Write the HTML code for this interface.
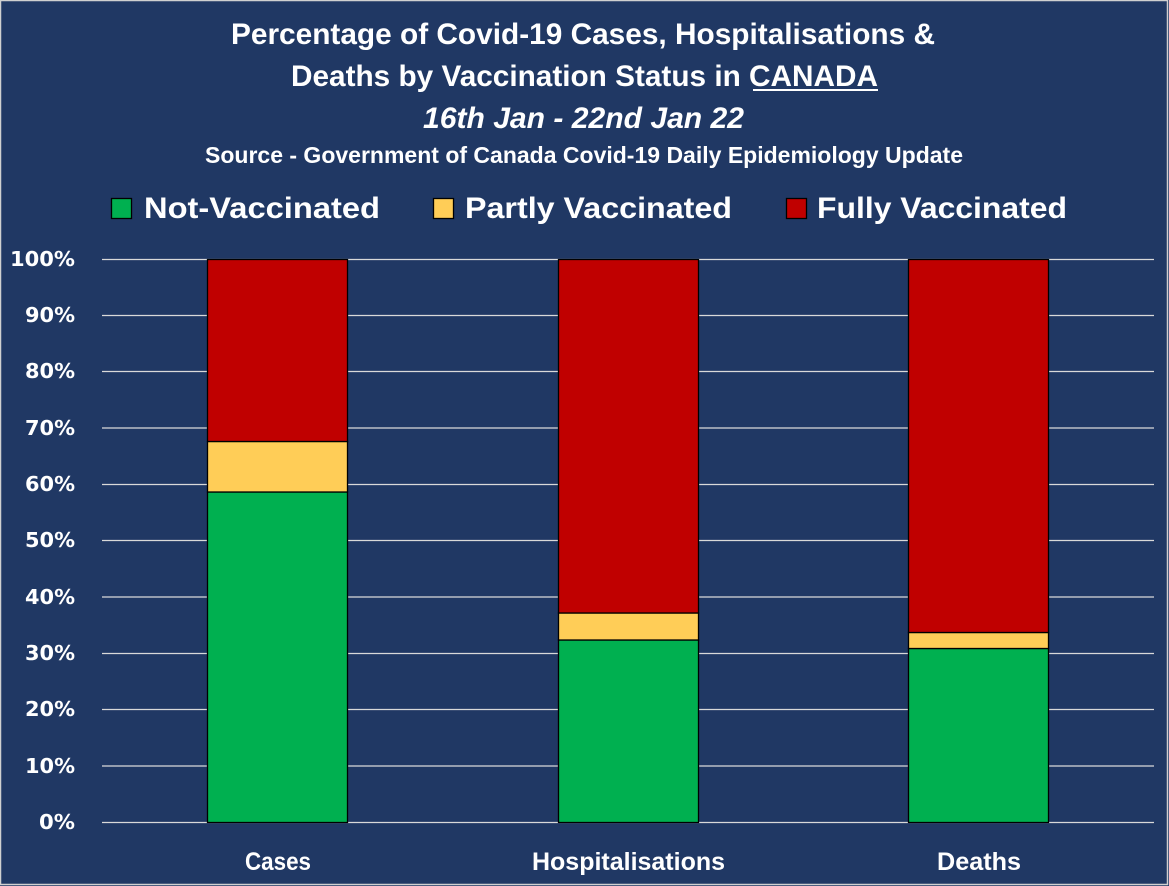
<!DOCTYPE html>
<html><head><meta charset="utf-8"><style>
html,body{margin:0;padding:0;background:#203864;}
svg{display:block;}
</style></head><body>
<svg xmlns="http://www.w3.org/2000/svg" width="1169" height="886" viewBox="0 0 1169 886">
<rect x="0" y="0" width="1169" height="886" fill="#203864"/>
<rect x="0.5" y="0.5" width="1167" height="884" fill="none" stroke="#d0d0d0" stroke-width="1.5"/>
<g font-family="'Liberation Sans', sans-serif" font-weight="bold" fill="#ffffff">
<text x="231" y="44" font-size="30" textLength="704" lengthAdjust="spacingAndGlyphs">Percentage of Covid-19 Cases, Hospitalisations &amp;</text>
<text x="291" y="86" font-size="30" textLength="587" lengthAdjust="spacingAndGlyphs">Deaths by Vaccination Status in CANADA</text>
<text x="423" y="128" font-size="30" font-style="italic" textLength="321" lengthAdjust="spacingAndGlyphs">16th Jan - 22nd Jan 22</text>
<text x="205" y="163" font-size="23" textLength="758" lengthAdjust="spacingAndGlyphs">Source - Government of Canada Covid-19 Daily Epidemiology Update</text>
<text x="144" y="218" font-size="30" textLength="236" lengthAdjust="spacingAndGlyphs">Not-Vaccinated</text>
<text x="465" y="218" font-size="30" textLength="267" lengthAdjust="spacingAndGlyphs">Partly Vaccinated</text>
<text x="817" y="218" font-size="30" textLength="250" lengthAdjust="spacingAndGlyphs">Fully Vaccinated</text>
<text x="245" y="870" font-size="25" textLength="66" lengthAdjust="spacingAndGlyphs">Cases</text>
<text x="532" y="870" font-size="25" textLength="193" lengthAdjust="spacingAndGlyphs">Hospitalisations</text>
<text x="937" y="870" font-size="25" textLength="84" lengthAdjust="spacingAndGlyphs">Deaths</text>
</g>
<rect x="753" y="89" width="125" height="2" fill="#ffffff"/>
<rect x="111.5" y="198.5" width="20" height="20" fill="#00b050" stroke="#000" stroke-width="1.3"/>
<rect x="433.5" y="198.5" width="20" height="20" fill="#ffcd57" stroke="#000" stroke-width="1.3"/>
<rect x="786.5" y="198.5" width="20" height="20" fill="#c00000" stroke="#000" stroke-width="1.3"/>
<g stroke="#d9d9d9" stroke-width="1.3">
<line x1="102" x2="1154" y1="259.5" y2="259.5"/>
<line x1="102" x2="1154" y1="315.5" y2="315.5"/>
<line x1="102" x2="1154" y1="371.5" y2="371.5"/>
<line x1="102" x2="1154" y1="428" y2="428"/>
<line x1="102" x2="1154" y1="484.5" y2="484.5"/>
<line x1="102" x2="1154" y1="540.5" y2="540.5"/>
<line x1="102" x2="1154" y1="597" y2="597"/>
<line x1="102" x2="1154" y1="653.5" y2="653.5"/>
<line x1="102" x2="1154" y1="709.5" y2="709.5"/>
<line x1="102" x2="1154" y1="766" y2="766"/>
<line x1="102" x2="1154" y1="822.5" y2="822.5"/>
</g>
<g font-family="'DejaVu Sans', sans-serif" font-weight="bold" font-size="20" fill="#ffffff" text-anchor="end">
<text x="75" y="266" textLength="65" lengthAdjust="spacingAndGlyphs">100%</text>
<text x="75" y="322" textLength="50" lengthAdjust="spacingAndGlyphs">90%</text>
<text x="75" y="378" textLength="50" lengthAdjust="spacingAndGlyphs">80%</text>
<text x="75" y="435" textLength="50" lengthAdjust="spacingAndGlyphs">70%</text>
<text x="75" y="491" textLength="50" lengthAdjust="spacingAndGlyphs">60%</text>
<text x="75" y="547" textLength="50" lengthAdjust="spacingAndGlyphs">50%</text>
<text x="75" y="604" textLength="50" lengthAdjust="spacingAndGlyphs">40%</text>
<text x="75" y="660" textLength="50" lengthAdjust="spacingAndGlyphs">30%</text>
<text x="75" y="716" textLength="50" lengthAdjust="spacingAndGlyphs">20%</text>
<text x="75" y="773" textLength="50" lengthAdjust="spacingAndGlyphs">10%</text>
<text x="75" y="829" textLength="36" lengthAdjust="spacingAndGlyphs">0%</text>
</g>
<g stroke="#000" stroke-width="1.3">
<rect x="207.5" y="492" width="140" height="330.5" fill="#00b050"/>
<rect x="207.5" y="441.5" width="140" height="50.5" fill="#ffcd57"/>
<rect x="207.5" y="259.5" width="140" height="182" fill="#c00000"/>
<rect x="558.5" y="640" width="140" height="182.5" fill="#00b050"/>
<rect x="558.5" y="613" width="140" height="27" fill="#ffcd57"/>
<rect x="558.5" y="259.5" width="140" height="353.5" fill="#c00000"/>
<rect x="908.5" y="648.5" width="140" height="174" fill="#00b050"/>
<rect x="908.5" y="632.5" width="140" height="16" fill="#ffcd57"/>
<rect x="908.5" y="259.5" width="140" height="373" fill="#c00000"/>
</g>
</svg>
</body></html>
